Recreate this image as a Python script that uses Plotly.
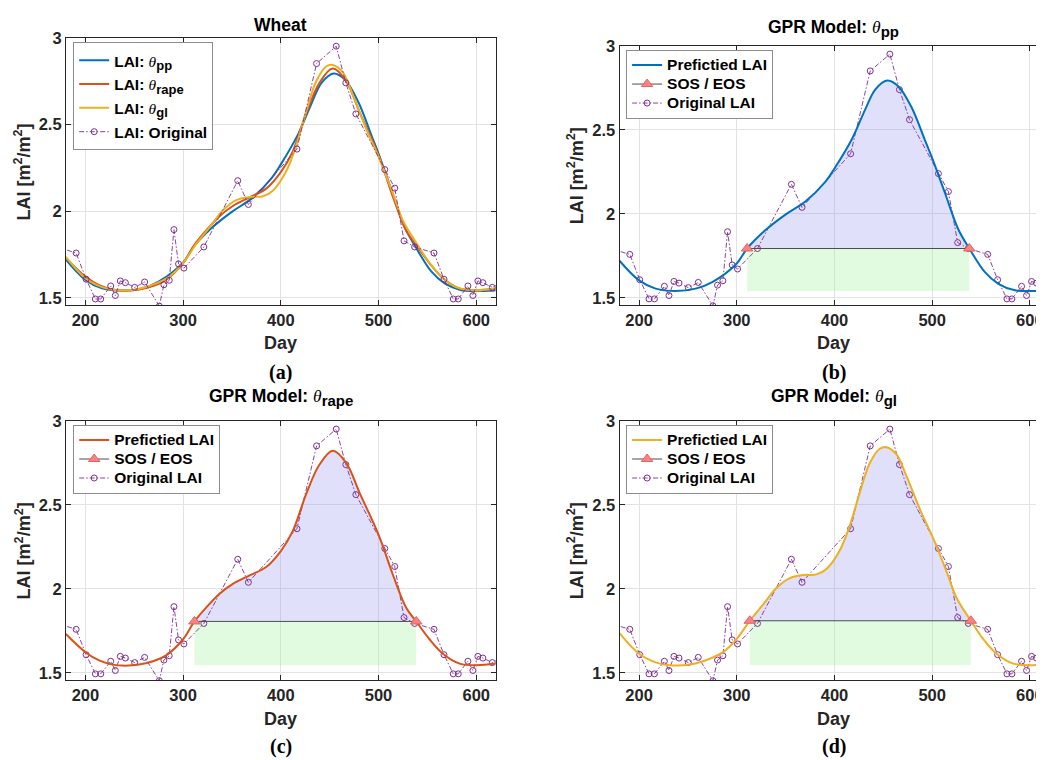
import plotly.graph_objects as go

# ---------------- data ----------------
orig_day = [171, 190.5, 200.7, 210.2, 215.7, 225.9, 230.6, 235.7, 240.9, 250.4, 260.6, 275.6,
            280.3, 285.8, 290.6, 295.3, 300.8, 321.2, 355.9, 366.8, 416.5, 436.6, 456.7, 466.5,
            476.8, 506.4, 516.6, 526.1, 537.0, 556.8, 567.0, 576.5, 581.6, 591.5, 596.6, 601.7,
            606.8, 616.5, 626.6]
orig_lai = [1.794, 1.759, 1.608, 1.494, 1.494, 1.569, 1.514, 1.598, 1.588, 1.561, 1.592, 1.453,
            1.576, 1.602, 1.894, 1.696, 1.672, 1.794, 2.176, 2.039, 2.358, 2.851, 2.951, 2.740,
            2.561, 2.240, 2.133, 1.829, 1.794, 1.759, 1.608, 1.494, 1.494, 1.569, 1.514, 1.598,
            1.588, 1.561, 1.592]

pp_day = [180, 200, 217, 237.4, 257.9, 274.9, 300, 310.6, 329.4, 349.8, 370.2, 390.6, 400,
          417.9, 431.5, 441.7, 454, 465.5, 479.1, 492.8, 500.3, 513.2, 526.8, 538, 554, 567.7,
          584.7, 601.7, 612.6, 620]
pp_lai = [1.721, 1.604, 1.555, 1.541, 1.555, 1.594, 1.705, 1.794, 1.904, 1.996, 2.074, 2.191,
          2.27, 2.446, 2.622, 2.740, 2.794, 2.759, 2.632, 2.436, 2.328, 2.123, 1.907, 1.794,
          1.653, 1.584, 1.545, 1.541, 1.541, 1.545]

rape_day = [180, 200, 214, 228, 238, 255, 269, 282.6, 300, 311.6, 323.5, 337, 350.9, 368, 385,
            400, 412.3, 426, 439.6, 453.2, 466.9, 480.5, 500.3, 514.7, 528.3, 538.6, 552.2,
            565.9, 583, 600, 620]
rape_lai = [1.731, 1.623, 1.574, 1.549, 1.543, 1.549, 1.569, 1.604, 1.70, 1.806, 1.888, 1.970,
            2.030, 2.080, 2.130, 2.225, 2.345, 2.565, 2.740, 2.822, 2.75, 2.573, 2.319, 2.084,
            1.888, 1.806, 1.70, 1.614, 1.555, 1.545, 1.555]

gl_day = [180, 200, 217.7, 231.4, 251.9, 272.4, 286, 300, 313.3, 327, 340.6, 354.3, 368, 381.6,
          391.8, 405.5, 415.7, 425.9, 436.2, 446.4, 453.2, 463.5, 473.7, 487.4, 501, 514.7,
          524.9, 539.6, 552.2, 565.9, 583, 600, 620]
gl_lai = [1.737, 1.614, 1.561, 1.545, 1.549, 1.584, 1.623, 1.702, 1.81, 1.907, 2.005, 2.064,
          2.082, 2.086, 2.118, 2.230, 2.377, 2.573, 2.749, 2.834, 2.843, 2.80, 2.671, 2.475,
          2.30, 2.103, 1.947, 1.81, 1.702, 1.614, 1.555, 1.545, 1.555]

# SOS / EOS (day, LAI level) and base of the season box
sos_day = {"pp": 310.6, "rape": 311.6, "gl": 313.3}
eos_day = {"pp": 538.0, "rape": 538.6, "gl": 539.6}
season_level = {"pp": 1.794, "rape": 1.806, "gl": 1.81}
season_base = {"pp": 1.541, "rape": 1.546, "gl": 1.546}

x_ticks = [200, 300, 400, 500, 600]
y_ticks = [1.5, 2, 2.5, 3]
y_ticktext = ["1.5", "2", "2.5", "3"]

# ---------------- style ----------------
OFF = 8                      # page body margin
W, H = 1044 - OFF, 760 - OFF
C_PP, C_RAPE, C_GL, C_ORIG = "#0072BD", "#D95319", "#EDB120", "#7E2F8E"
FONT = "Liberation Sans"
AX = "#262626"
ORIG_DASH = "5px,2px,1.5px,2px"
LEG_TXT = 15.5

series = {"pp": (pp_day, pp_lai, C_PP), "rape": (rape_day, rape_lai, C_RAPE),
          "gl": (gl_day, gl_lai, C_GL)}


def px_x(p):
    return (p - OFF) / W


def px_y(p):
    return 1 - (p - OFF) / H


def big(txt):
    return "<span style='font-size:%.1fpx'>%s</span>" % (LEG_TXT, txt)


panels = {
    "a": dict(xdom=[px_x(66), px_x(496.7)], ydom=[px_y(300.3), px_y(29)], xr=[180, 620]),
    "b": dict(xdom=[px_x(620.7), 1.0], ydom=[px_y(300), px_y(37.3)], xr=[180, 612.4]),
    "c": dict(xdom=[px_x(66), px_x(496.7)], ydom=[px_y(680), px_y(417.3)], xr=[180, 620]),
    "d": dict(xdom=[px_x(620.7), 1.0], ydom=[px_y(680), px_y(417.3)], xr=[180, 612.4]),
}
axis_ids = {"a": ("x", "y", "legend"), "b": ("x2", "y2", "legend2"),
            "c": ("x3", "y3", "legend3"), "d": ("x4", "y4", "legend4")}

fig = go.Figure()


def theta(sub, size=None):
    s = "<sub><b>%s</b></sub>" % sub
    if size:
        s = "<sub><b><span style='font-size:%dpx'>%s</span></b></sub>" % (size, sub)
    return ("<span style='font-family:Liberation Serif;font-weight:normal'><i>θ</i></span>" + s)


# ---- panel (a) ----
xa, ya, lg = axis_ids["a"]
for k, sub in [("pp", "pp"), ("rape", "rape"), ("gl", "gl")]:
    d, v, c = series[k]
    fig.add_trace(go.Scatter(x=d, y=v, mode="lines", line=dict(color=c, width=2, shape="spline"),
                             name=big("<b>LAI: </b>" + theta(sub, 13)),
                             xaxis=xa, yaxis=ya, legend=lg))
fig.add_trace(go.Scatter(x=orig_day, y=orig_lai, mode="lines+markers",
                         line=dict(color=C_ORIG, width=0.9, dash=ORIG_DASH),
                         marker=dict(symbol="circle-open", size=6, color=C_ORIG, line=dict(width=1)),
                         name=big("<b>LAI: Original</b>"), xaxis=xa, yaxis=ya, legend=lg))

# ---- panels (b), (c), (d) ----
for pk, k in [("b", "pp"), ("c", "rape"), ("d", "gl")]:
    xa, ya, lg = axis_ids[pk]
    d, v, c = series[k]
    s, e, lvl, base = sos_day[k], eos_day[k], season_level[k], season_base[k]
    # green season box
    fig.add_trace(go.Scatter(x=[s, e, e, s, s], y=[base, base, lvl, lvl, base], mode="lines",
                             fill="toself", fillcolor="rgba(140,240,140,0.26)",
                             line=dict(width=0), showlegend=False, hoverinfo="skip",
                             xaxis=xa, yaxis=ya))
    # lavender area between curve and SOS/EOS level
    fig.add_trace(go.Scatter(x=[s, e], y=[lvl, lvl], mode="lines", line=dict(width=0),
                             showlegend=False, hoverinfo="skip", xaxis=xa, yaxis=ya))
    sub_d = [dd for dd in d if s <= dd <= e]
    sub_v = [vv for dd, vv in zip(d, v) if s <= dd <= e]
    fig.add_trace(go.Scatter(x=sub_d, y=sub_v, mode="lines", fill="tonexty",
                             fillcolor="rgba(140,140,240,0.27)",
                             line=dict(width=0, shape="spline"), showlegend=False,
                             hoverinfo="skip", xaxis=xa, yaxis=ya))
    fig.add_trace(go.Scatter(x=orig_day, y=orig_lai, mode="lines+markers",
                             line=dict(color=C_ORIG, width=0.9, dash=ORIG_DASH),
                             marker=dict(symbol="circle-open", size=6, color=C_ORIG, line=dict(width=1)),
                             name=big("<b>Original LAI</b>"), legendrank=3,
                             xaxis=xa, yaxis=ya, legend=lg))
    fig.add_trace(go.Scatter(x=d, y=v, mode="lines", line=dict(color=c, width=2, shape="spline"),
                             name=big("<b>Prefictied LAI</b>"), legendrank=1,
                             xaxis=xa, yaxis=ya, legend=lg))
    fig.add_trace(go.Scatter(x=[s, e], y=[lvl, lvl], mode="lines+markers",
                             line=dict(color="#4d4d4d", width=1),
                             marker=dict(symbol="triangle-up", size=10, color="#FF8080",
                                         line=dict(color="#E06666", width=1)),
                             name=big("<b>SOS / EOS</b>"), legendrank=2,
                             xaxis=xa, yaxis=ya, legend=lg))

# ---------------- axes ----------------
layout = dict(width=W, height=H, margin=dict(l=0, r=0, t=0, b=0),
              paper_bgcolor="white", plot_bgcolor="white", showlegend=True,
              font=dict(family=FONT, color="black"))
for pk, p in panels.items():
    xa, ya, lg = axis_ids[pk]
    xkey = "xaxis" + xa[1:]
    ykey = "yaxis" + ya[1:]
    right_open = pk in ("b", "d")
    layout[xkey] = dict(domain=p["xdom"], range=p["xr"], anchor=ya, tickvals=x_ticks,
                        showgrid=True, gridcolor="#E3E3E3", gridwidth=1, zeroline=False,
                        showline=True, linecolor=AX, linewidth=1, mirror="ticks",
                        ticks="inside", ticklen=5, tickcolor=AX, ticklabeloverflow="allow",
                        tickfont=dict(family=FONT, size=16.5, color=AX, weight="bold"))
    layout[ykey] = dict(domain=p["ydom"], range=[1.457, 3], anchor=xa, tickvals=y_ticks,
                        ticktext=y_ticktext,
                        showgrid=True, gridcolor="#E3E3E3", gridwidth=1, zeroline=False,
                        showline=True, linecolor=AX, linewidth=1,
                        mirror=False if right_open else "ticks",
                        ticks="inside", ticklen=5, tickcolor=AX,
                        tickfont=dict(family=FONT, size=16.5, color=AX, weight="bold"))

# (x, y of box top-left in page px, base font size controlling row spacing)
legend_pos = {"a": (73.3, 33.7, 16), "b": (627.3, 41.0, 12.3),
              "c": (73.3, 421.0, 12.3), "d": (627.3, 421.0, 12.3)}
for pk, (lx, ly, fs) in legend_pos.items():
    key = axis_ids[pk][2]
    layout[key] = dict(x=px_x(lx), y=px_y(ly), xanchor="left", yanchor="top",
                       bgcolor="white", bordercolor="#8c8c8c", borderwidth=1,
                       font=dict(family=FONT, size=fs, color="black"),
                       tracegroupgap=0, itemwidth=30, traceorder="normal")

fig.update_layout(**layout)

# ---------------- text ----------------
ann = []
centers = {"a": 281.3, "b": 835.5, "c": 281.3, "d": 835.5}
titles = {"a": "<b>Wheat</b>",
          "b": "<b>GPR Model: </b>" + theta("pp", 15),
          "c": "<b>GPR Model: </b>" + theta("rape", 15),
          "d": "<b>GPR Model: </b>" + theta("gl", 15)}
title_y = {"a": 16, "b": 20, "c": 394, "d": 394}
xlab_y = {"a": 338, "b": 338, "c": 719.5, "d": 719.5}
plab_y = {"a": 368, "b": 368, "c": 747.5, "d": 747.5}
ylab_x = {"a": 23, "b": 577, "c": 23, "d": 577}
ylab_y = {"a": 164.7, "b": 168.6, "c": 548.6, "d": 548.6}
for pk in "abcd":
    cx = px_x(centers[pk])
    ann.append(dict(text=titles[pk], x=cx, y=px_y(title_y[pk]), xref="paper", yref="paper",
                    xanchor="center", yanchor="middle", showarrow=False,
                    font=dict(family=FONT, size=17.5, color="black")))
    ann.append(dict(text="<b>Day</b>", x=cx, y=px_y(xlab_y[pk]), xref="paper", yref="paper",
                    xanchor="center", yanchor="middle", showarrow=False,
                    font=dict(family=FONT, size=18, color=AX)))
    ann.append(dict(text="<b>(%s)</b>" % pk, x=cx, y=px_y(plab_y[pk]), xref="paper", yref="paper",
                    xanchor="center", yanchor="middle", showarrow=False,
                    font=dict(family="Liberation Serif", size=20, color="black")))
    ann.append(dict(text="<b>LAI [m<sup>2</sup>/m<sup>2</sup>]</b>", x=px_x(ylab_x[pk]),
                    y=px_y(ylab_y[pk]), xref="paper", yref="paper", textangle=-90,
                    xanchor="center", yanchor="middle", showarrow=False,
                    font=dict(family=FONT, size=18, color=AX)))
fig.update_layout(annotations=ann)

fig.write_html("out.html")
